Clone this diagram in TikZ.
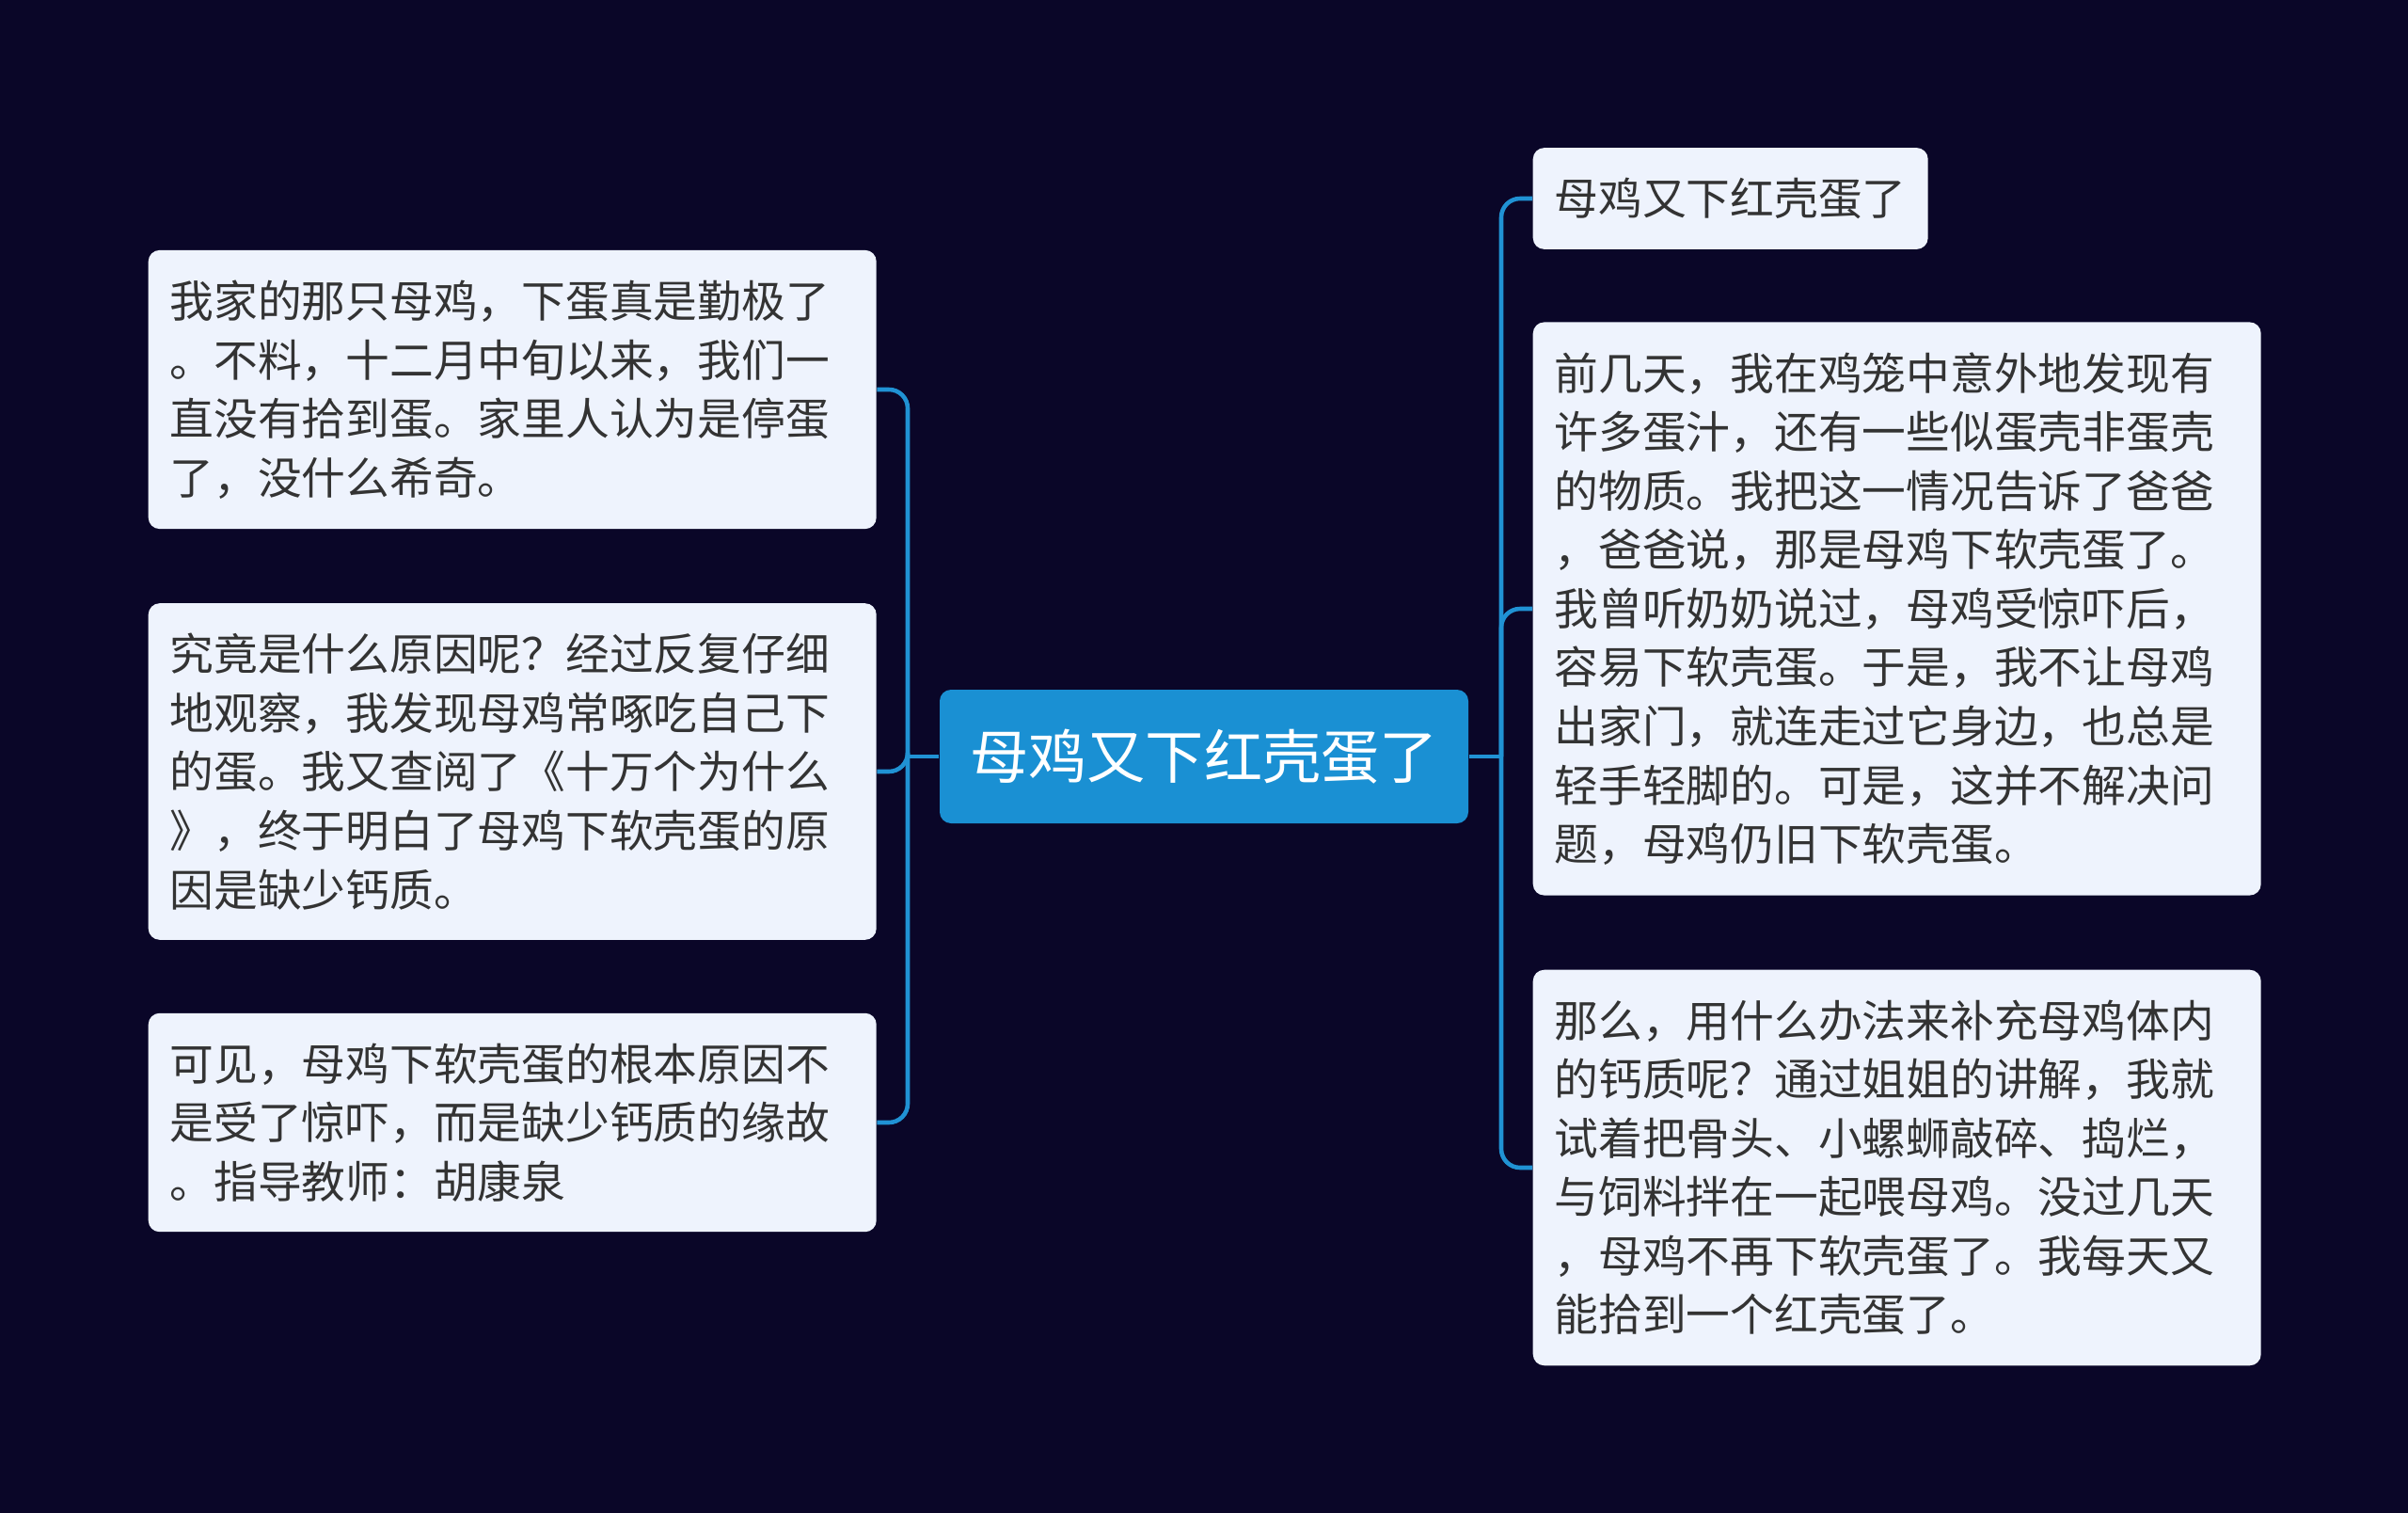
\documentclass[tikz,border=0pt]{standalone}
\usepackage{fontspec}
\usepackage{xcolor}
\newfontfamily\cjk{Noto Sans CJK SC}
\definecolor{bgnavy}{HTML}{0A0628}
\definecolor{boxfill}{HTML}{EEF3FD}
\definecolor{rootblue}{HTML}{1A90D3}
\definecolor{linkblue}{HTML}{2092D4}
\definecolor{inkgray}{HTML}{333333}
\usetikzlibrary{calc}

\begin{document}
\begin{tikzpicture}[
      root node/.style={fill=rootblue,text=white,rounded corners=0.12cm,
        font=\cjk\fontsize{17.7}{21}\selectfont,
        minimum width=5.62cm,minimum height=1.42cm,inner sep=0pt},
      topic node/.style={fill=boxfill,text=inkgray,rounded corners=0.12cm,
        font=\cjk\fontsize{13.3}{17.8}\selectfont,anchor=west,
        inner xsep=0.23cm,inner ysep=0.32cm},
      long node/.style={topic node,text width=7.28cm,align=left},
      link/.style={draw=linkblue,line width=1.3pt}]
    \useasboundingbox (0,0) rectangle (25.6,-16.08);
    \fill[bgnavy] (0,0) rectangle (25.6,-16.08);

    \node[root node] (root) at (12.80,-8.04) {母鸡又下红壳蛋了};

    \node[long node] (l1) at (1.57,-4.14) {我家的那只母鸡，下蛋真是勤极了\\
      。不料，十二月中旬以来，我们一\\
      直没有拾到蛋。家里人认为是停蛋\\
      了，没什么希奇。};
    \node[long node] (l2) at (1.57,-8.20) {究竟是什么原因呢？经过反复仔细\\
      地观察，我发现母鸡常啄吃自己下\\
      的蛋。我又查阅了《十万个为什么\\
      》，终于明白了母鸡下软壳蛋的原\\
      因是缺少钙质。};
    \node[long node] (l3) at (1.57,-11.93) {可见，母鸡下软壳蛋的根本原因不\\
      是受了惊吓，而是缺少钙质的缘故\\
      。指导教师：胡康泉};

    \node[topic node] (r1) at (16.29,-2.11) {母鸡又下红壳蛋了};
    \node[long node] (r2) at (16.29,-6.47) {前几天，我在鸡笼中意外地发现有\\
      许多蛋汁，还有一些似蛋壳非蛋壳\\
      的物质。我把这一情况告诉了爸爸\\
      ，爸爸说，那是母鸡下软壳蛋了。\\
      我曾听奶奶说过，母鸡受惊吓后，\\
      容易下软壳蛋。于是，我不让母鸡\\
      出家门，就连走过它身边，也总是\\
      轻手轻脚的。可是，这并不解决问\\
      题，母鸡仍旧下软壳蛋。};
    \node[long node] (r3) at (16.29,-12.41) {那么，用什么办法来补充母鸡体内\\
      的钙质呢？通过姐姐的讲解，我就\\
      试着把骨头、小螺蛳敲碎、捣烂，\\
      与饲料拌在一起喂母鸡。没过几天\\
      ，母鸡不再下软壳蛋了。我每天又\\
      能拾到一个红壳蛋了。};

    \coordinate (lj) at (9.65,-8.04);
    \coordinate (rj) at (15.96,-8.04);
    \draw[link] (root.west) -- (lj);
    \draw[link] (root.east) -- (rj);
    \foreach \n in {l1,l2,l3}
      \draw[link,rounded corners=0.2cm] (lj) |- (\n.east);
    \foreach \n in {r1,r2,r3}
      \draw[link,rounded corners=0.2cm] (rj) |- (\n.west);
  \end{tikzpicture}
\end{document}
